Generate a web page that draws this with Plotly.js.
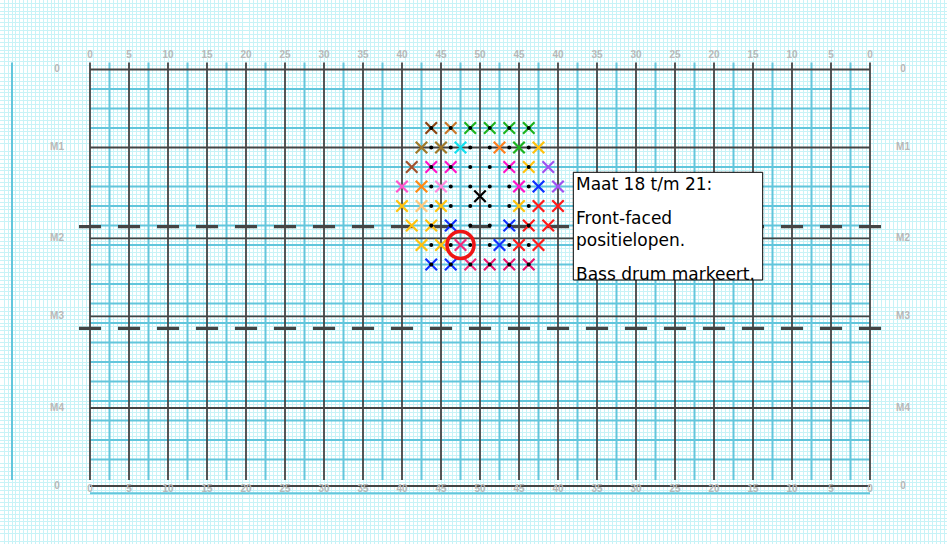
<!DOCTYPE html>
<html><head><meta charset="utf-8">
<script src="https://cdn.plot.ly/plotly-3.0.1.min.js"></script>
<style>html,body{margin:0;padding:0;background:#fff}#chart{width:947px;height:544px}</style>
</head><body><div id="chart"></div>
<script>
// ---- data ----
const yardPositions = [0,5,10,15,20,25,30,35,40,45,50,55,60,65,70,75,80,85,90,95,100];
const yardLabels = ['0','5','10','15','20','25','30','35','40','45','50','45','40','35','30','25','20','15','10','5','0'];
const measureRows = [0, 10, 21.65, 31.65, 43.4, 53.4];
const measureLabels = ['0','M1','M2','M3','M4','0'];
const dashedRows = [20.15, 33.2];

const perfX = [43.75,46.25,48.75,51.25,53.75,56.25,
               42.5,45,47.5,52.5,55,57.5,
               41.25,43.75,46.25,53.75,56.25,58.75,
               40,42.5,45,55,57.5,60,
               50,
               40,42.5,45,55,57.5,60,
               41.25,43.75,46.25,53.75,56.25,58.75,
               42.5,45,47.5,52.5,55,57.5,
               43.75,46.25,48.75,51.25,53.75,56.25];
const perfY = [7.5,7.5,7.5,7.5,7.5,7.5,
               10,10,10,10,10,10,
               12.5,12.5,12.5,12.5,12.5,12.5,
               15,15,15,15,15,15,
               16.25,
               17.5,17.5,17.5,17.5,17.5,17.5,
               20,20,20,20,20,20,
               22.5,22.5,22.5,22.5,22.5,22.5,
               25,25,25,25,25,25];
const perfColor = ['#8B4513','#C8782A','#1DB31D','#1DB31D','#1DB31D','#1DB31D',
                   '#A07828','#A07828','#11E0EE','#FF7F1E','#1DB31D','#FFC20E',
                   '#A0522D','#FF14C8','#FF14C8','#FF14C8','#FFC20E','#A050F0',
                   '#FF55CC','#FF8A14','#FF88DD','#FF14C8','#1030FF','#A050F0',
                   '#000000',
                   '#FFC20E','#FFC87A','#FFC20E','#FFC20E','#FF1A1A','#FF1A1A',
                   '#FFC20E','#FFC20E','#1030FF','#1030FF','#FF1A1A','#FF1A1A',
                   '#FFC20E','#FFC20E','#F0287A','#1030FF','#FF1A1A','#FF1A1A',
                   '#1030FF','#1030FF','#F0287A','#E8146E','#E8146E','#E8146E'];
const dotCols = [43.75,46.25,48.75,51.25,53.75,56.25];
const dotRows = [7.5,10,12.5,15,17.5,20,22.5,25];
const bassDrumX = [47.5];
const bassDrumY = [22.5];
// note paragraphs: [text, first line index]
const noteTexts = ['Maat 18 t/m 21:', 'Front-faced<br>positielopen.', 'Bass drum markeert.'];
const noteLineIdx = [0, 2, 5];

// ---- geometry (pixel -> field units) ----
const PX = 7.8, OX = 90, OY = 69.5, W = 947, H = 544;
const ux = p => (p - OX) / PX;
const uy = p => (p - OY) / PX;

const traces = [];
// blue field lines
const bx = [], by = [];
const topV = uy(62.5), botV = uy(480);
for (let i = 0; i < yardPositions.length - 1; i++) {
  const m = (yardPositions[i] + yardPositions[i+1]) / 2;
  bx.push(m, m, null); by.push(topV, botV, null);
}
for (let k = 1; k <= 20; k++) {
  const r = k * 2.5;
  if (r === 10) continue;
  bx.push(0, 100, null); by.push(r, r, null);
}
bx.push(0, 100, null); by.push(uy(493.3), uy(493.3), null);
bx.push(ux(12), ux(12), null); by.push(topV, botV, null);
traces.push({x: bx, y: by, mode: 'lines', line: {color: '#62c6dc', width: 2}, hoverinfo: 'skip'});

// black field lines
const kx = [], ky = [];
yardPositions.forEach(p => { kx.push(p, p, null); ky.push(topV, botV, null); });
measureRows.forEach(r => { kx.push(0, 100, null); ky.push(r, r, null); });
traces.push({x: kx, y: ky, mode: 'lines', line: {color: '#444444', width: 1.8}, hoverinfo: 'skip'});

// dashed lines
dashedRows.forEach(r => traces.push({x: [ux(79), ux(881)], y: [r, r], mode: 'lines',
  line: {color: '#444444', width: 3.2, dash: '22px,17px'}, hoverinfo: 'skip'}));

// yard labels
const lblFont = {family: 'Liberation Sans, Arial', size: 10, color: '#b8b8b8', weight: 'bold'};
traces.push({x: yardPositions, y: yardPositions.map(() => uy(55)), text: yardLabels, mode: 'text',
  textfont: lblFont, hoverinfo: 'skip'});
traces.push({x: yardPositions, y: yardPositions.map(() => uy(489.3)), text: yardLabels, mode: 'text',
  textfont: lblFont, hoverinfo: 'skip'});
// measure labels
traces.push({x: measureRows.map(() => ux(57)), y: measureRows, text: measureLabels, mode: 'text',
  textfont: lblFont, hoverinfo: 'skip'});
traces.push({x: measureRows.map(() => ux(903)), y: measureRows, text: measureLabels, mode: 'text',
  textfont: lblFont, hoverinfo: 'skip'});

// performers
traces.push({x: perfX, y: perfY, mode: 'markers',
  marker: {symbol: 'x-thin', size: 11.5, color: perfColor, line: {width: 2.2, color: perfColor}}, hoverinfo: 'skip'});
// dots
const dx = [], dy = [];
dotRows.forEach(r => dotCols.forEach(c => { dx.push(c); dy.push(r); }));
traces.push({x: dx, y: dy, mode: 'markers', marker: {symbol: 'circle', size: 4, color: '#000'}, hoverinfo: 'skip'});
// bass drum circle
traces.push({x: bassDrumX, y: bassDrumY, mode: 'markers',
  marker: {symbol: 'circle-open', size: 27, color: '#EE1515', line: {width: 3.6, color: '#EE1515'}}, hoverinfo: 'skip'});

// note box
const shapes = [{type: 'rect', xref: 'x', yref: 'y', layer: 'above',
  x0: ux(573.3), x1: ux(762.7), y0: uy(172.3), y1: uy(280),
  fillcolor: '#ffffff', line: {color: '#000', width: 1}}];
const annotations = [];
noteTexts.forEach((t, i) => {
  const nLines = t.split('<br>').length;
  const first = 184.2 + noteLineIdx[i] * 18;
  const centre = first + (nLines - 1) * 18 / 2;
  annotations.push({x: ux(575), y: uy(centre), xref: 'x', yref: 'y', text: t, showarrow: false,
    xanchor: 'left', yanchor: 'middle', align: 'left', borderpad: 0,
    font: {family: 'DejaVu Sans', size: 17, color: '#000'}});
});

const layout = {
  width: W, height: H, margin: {l: 0, r: 0, t: 0, b: 0},
  paper_bgcolor: '#ffffff', plot_bgcolor: '#ffffff', showlegend: false,
  xaxis: {range: [ux(0), ux(W)], showgrid: false, zeroline: false, showticklabels: false, ticks: '',
    minor: {dtick: 0.5, tick0: 0, showgrid: true, gridcolor: '#c8f3f7', gridwidth: 1}},
  yaxis: {range: [uy(H), uy(0)], showgrid: false, zeroline: false, showticklabels: false, ticks: '',
    minor: {dtick: 0.5, tick0: 0, showgrid: true, gridcolor: '#c8f3f7', gridwidth: 1}},
  shapes: shapes, annotations: annotations
};
Plotly.newPlot('chart', traces, layout, {staticPlot: true, displayModeBar: false});
</script>
</body></html>
